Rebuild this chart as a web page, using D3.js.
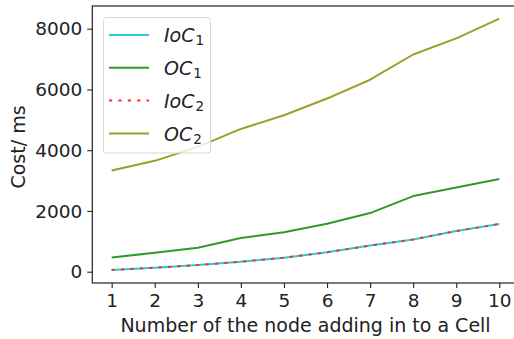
<!DOCTYPE html>
<html>
<head>
<meta charset="utf-8">
<script src="https://cdn.jsdelivr.net/npm/d3@7"></script>
<style>
  body { margin: 0; background: white; }
  svg { display: block; font-family: "DejaVu Sans", sans-serif; }
</style>
</head>
<body>
<div id="container"></div>
<script>
const width = 514;
const height = 339;

const nodes = [1, 2, 3, 4, 5, 6, 7, 8, 9, 10];
const ioc1 = [60, 130, 220, 330, 460, 640, 860, 1060, 1340, 1570];
const oc1 = [470, 620, 790, 1110, 1300, 1580, 1930, 2490, 2770, 3050];
const ioc2 = [60, 130, 220, 330, 460, 640, 860, 1060, 1340, 1570];
const oc2 = [3330, 3650, 4110, 4700, 5150, 5700, 6320, 7150, 7680, 8330];
const yTicks = [0, 2000, 4000, 6000, 8000];

const seriesList = [
    {name: "IoC", sub: "1", values: ioc1, color: "#22ccd2", dash: null},
    {name: "OC", sub: "1", values: oc1, color: "#2e9a2e", dash: null},
    {name: "IoC", sub: "2", values: ioc2, color: "#ff2a2a", dash: "3.2,6.2"},
    {name: "OC", sub: "2", values: oc2, color: "#9e9e28", dash: null}
];

const plot = {left: 92.3, right: 518.7, top: 6, bottom: 283};

const x = d3.scaleLinear()
    .domain([0.55, 10.45])
    .range([plot.left, plot.right]);

const y = d3.scaleLinear()
    .domain([-372, 8747])
    .range([plot.bottom, plot.top]);

const svg = d3.create("svg")
    .attr("width", width)
    .attr("height", height);

svg.append("rect")
    .attr("width", width)
    .attr("height", height)
    .attr("fill", "white");

// lines
const line = d3.line()
    .x((d, i) => x(nodes[i]))
    .y(d => y(d));

svg.selectAll("path.series")
    .data(seriesList)
    .enter()
    .append("path")
    .attr("class", "series")
    .attr("d", s => line(s.values))
    .attr("fill", "none")
    .attr("stroke", s => s.color)
    .attr("stroke-width", 2)
    .attr("stroke-linejoin", "round")
    .attr("stroke-dasharray", s => s.dash);

// axes
const xAxis = svg.append("g")
    .attr("transform", `translate(0,${plot.bottom})`)
    .call(d3.axisBottom(x).tickValues(nodes).tickSize(5).tickPadding(6).tickFormat(d3.format("d")));

const yAxis = svg.append("g")
    .attr("transform", `translate(${plot.left},0)`)
    .call(d3.axisLeft(y).tickValues(yTicks).tickSize(5).tickPadding(5).tickFormat(d3.format("d")));

[xAxis, yAxis].forEach(g => {
    g.select(".domain").remove();
    g.selectAll(".tick line").attr("stroke", "#222").attr("stroke-width", 1.1);
    g.selectAll(".tick text")
        .attr("fill", "#222")
        .attr("font-size", "18.5px")
        .attr("font-family", "DejaVu Sans");
});
yAxis.selectAll(".tick text").attr("dy", "0.34em");

// spines
svg.append("rect")
    .attr("x", plot.left)
    .attr("y", plot.top)
    .attr("width", plot.right - plot.left)
    .attr("height", plot.bottom - plot.top)
    .attr("fill", "none")
    .attr("stroke", "#222")
    .attr("stroke-width", 1.2);

// axis labels
svg.append("text")
    .attr("x", (plot.left + plot.right) / 2)
    .attr("y", 332)
    .attr("text-anchor", "middle")
    .attr("font-size", "19px")
    .attr("fill", "#222")
    .text("Number of the node adding in to a Cell");

svg.append("text")
    .attr("transform", "translate(24.5,147) rotate(-90)")
    .attr("text-anchor", "middle")
    .attr("font-size", "19px")
    .attr("fill", "#222")
    .text("Cost/ ms");

// legend
const legend = svg.append("g")
    .attr("class", "legend");

legend.append("rect")
    .attr("x", 103.5)
    .attr("y", 17.5)
    .attr("width", 107)
    .attr("height", 135.5)
    .attr("rx", 3)
    .attr("fill", "white")
    .attr("fill-opacity", 0.8)
    .attr("stroke", "#d6d6d6")
    .attr("stroke-width", 1);

const rowY = i => 35 + i * 32.8;

legend.selectAll("line")
    .data(seriesList)
    .enter()
    .append("line")
    .attr("x1", 109)
    .attr("x2", 149)
    .attr("y1", (_, i) => rowY(i))
    .attr("y2", (_, i) => rowY(i))
    .attr("stroke", s => s.color)
    .attr("stroke-width", 2)
    .attr("stroke-dasharray", s => s.dash);

const labels = legend.selectAll("text")
    .data(seriesList)
    .enter()
    .append("text")
    .attr("x", 164)
    .attr("y", (_, i) => rowY(i) + 7.3)
    .attr("fill", "#222")
    .attr("font-size", "19px");

labels.append("tspan")
    .attr("font-style", "italic")
    .text(s => s.name);

labels.append("tspan")
    .attr("font-size", "13.5px")
    .attr("dy", 3)
    .attr("dx", 1)
    .text(s => s.sub);

d3.select("#container").append(() => svg.node());
</script>
</body>
</html>
